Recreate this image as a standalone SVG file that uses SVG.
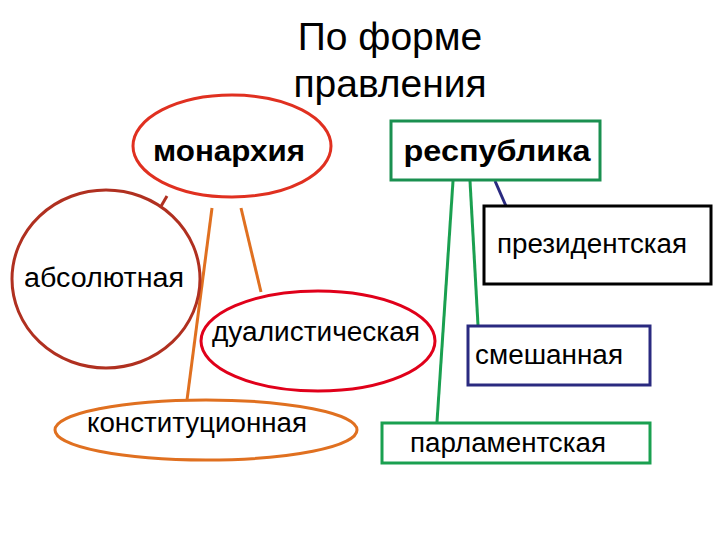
<svg xmlns="http://www.w3.org/2000/svg" width="720" height="540" viewBox="0 0 720 540">
<style>
text{font-family:"Liberation Sans",Arial,sans-serif;text-anchor:middle;fill:#000}
.n{fill:#fff;stroke-width:3}
.t{font-size:27px}
.b{font-size:30px;font-weight:bold}
.c line{stroke-width:3}
</style>
<rect width="720" height="540" fill="#fff"/>
<text x="390" y="50" font-size="39">По форме</text>
<text x="390" y="97" font-size="39">правления</text>
<g class="c" id="connectors">
<line x1="167" y1="196" x2="160" y2="208" stroke="#b03020"/>
<line x1="212" y1="208" x2="187" y2="400" stroke="#e07020"/>
<line x1="241" y1="208" x2="261" y2="292" stroke="#e07020"/>
<line x1="453" y1="181" x2="437" y2="422" stroke="#1aa050"/>
<line x1="470" y1="181" x2="478" y2="325" stroke="#1aa050"/>
<line x1="495" y1="181" x2="506" y2="206" stroke="#2a2a80"/>
</g>
<g id="monarchy"><ellipse class="n" cx="232" cy="146" rx="99" ry="51" stroke="#e03020"/><text class="b" x="229" y="161" textLength="152" lengthAdjust="spacingAndGlyphs">монархия</text></g>
<g id="republic"><rect class="n" x="391" y="121" width="209" height="59" stroke="#1a9050"/><text class="b" x="497" y="161" textLength="187" lengthAdjust="spacingAndGlyphs">республика</text></g>
<g id="presidential"><rect class="n" x="484" y="206" width="227" height="78" stroke="#000"/><text class="t" x="592" y="253" textLength="190" lengthAdjust="spacingAndGlyphs">президентская</text></g>
<g id="absolute"><ellipse class="n" cx="106" cy="279" rx="94" ry="89" stroke="#b03020"/><text class="t" x="104" y="287" textLength="160" lengthAdjust="spacingAndGlyphs">абсолютная</text></g>
<g id="dualistic"><ellipse class="n" cx="318" cy="341" rx="117" ry="50" stroke="#e0001a"/><text class="t" x="316" y="341" textLength="208" lengthAdjust="spacingAndGlyphs">дуалистическая</text></g>
<g id="constitutional"><ellipse class="n" cx="206" cy="430" rx="151" ry="30" stroke="#e07020"/><text class="t" x="197" y="432" textLength="220" lengthAdjust="spacingAndGlyphs">конституционная</text></g>
<g id="mixed"><rect class="n" x="468" y="326" width="182" height="59" stroke="#2a2a80"/><text class="t" x="549" y="364" textLength="148" lengthAdjust="spacingAndGlyphs">смешанная</text></g>
<g id="parliamentary"><rect class="n" x="382" y="423" width="268" height="40" stroke="#1aa050"/><text class="t" x="508" y="452" textLength="196" lengthAdjust="spacingAndGlyphs">парламентская</text></g>
</svg>
